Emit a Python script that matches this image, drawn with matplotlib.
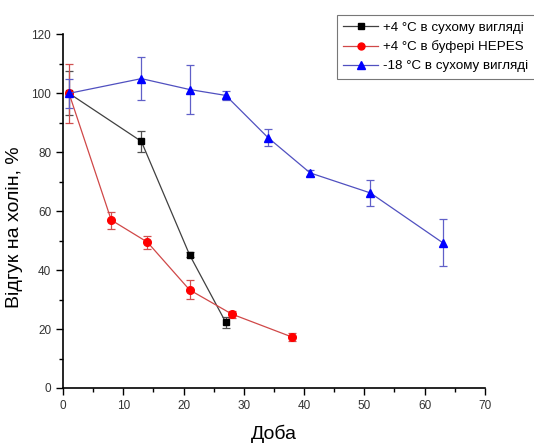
import matplotlib
matplotlib.use('Agg')
import matplotlib.pyplot as plt
from matplotlib.lines import Line2D
from matplotlib.ticker import MultipleLocator

plt.rcParams['font.family'] = ['Liberation Sans', 'DejaVu Sans']

# дані
x_dry4 = [1, 13, 21, 27]
y_dry4 = [100, 83.7, 45.2, 22.3]
e_dry4 = [7.5, 3.5, 0.8, 1.8]

x_hepes = [1, 8, 14, 21, 28, 38]
y_hepes = [100, 57.0, 49.5, 33.3, 25.1, 17.3]
e_hepes = [10.0, 2.9, 2.2, 3.2, 1.2, 1.3]

x_dry18 = [1, 13, 21, 27, 34, 41, 51, 63]
y_dry18 = [100, 105.0, 101.3, 99.3, 85.0, 73.0, 66.2, 49.3]
e_dry18 = [5.0, 7.4, 8.4, 1.6, 2.8, 1.0, 4.5, 7.9]

labels = ['+4 °C в сухому вигляді', '+4 °C в буфері HEPES', '-18 °C в сухому вигляді']

fig = plt.figure(figsize=(5.34, 4.47), dpi=100)
ax = fig.add_axes([0.118, 0.132, 0.79, 0.791])

styles = [
    dict(color='#404040', ecolor='#505050', marker='s', mfc='black', mec='black', ms=5),
    dict(color='#d04848', ecolor='#d05050', marker='o', mfc='red', mec='red', ms=5.5),
    dict(color='#5050c0', ecolor='#6060c8', marker='^', mfc='blue', mec='blue', ms=6),
]
series = [(x_dry4, y_dry4, e_dry4), (x_hepes, y_hepes, e_hepes), (x_dry18, y_dry18, e_dry18)]

handles = []
for (xs, ys, es), st in zip(series, styles):
    ax.errorbar(xs, ys, yerr=es, lw=0.9, elinewidth=0.9, capsize=3, capthick=0.9, **st)
    handles.append(Line2D([], [], lw=0.9, color=st['color'], marker=st['marker'],
                          mfc=st['mfc'], mec=st['mec'], ms=st['ms'] - 0.5))

ax.set_xlim(0, 70)
ax.set_ylim(0, 120)
ax.xaxis.set_major_locator(MultipleLocator(10))
ax.xaxis.set_minor_locator(MultipleLocator(5))
ax.yaxis.set_major_locator(MultipleLocator(20))
ax.yaxis.set_minor_locator(MultipleLocator(10))
ax.spines['top'].set_visible(False)
ax.spines['right'].set_visible(False)
ax.spines['left'].set_linewidth(1.2)
ax.spines['bottom'].set_linewidth(1.2)
ax.tick_params(which='major', direction='out', length=5, width=1, labelsize=8.5, labelcolor='#333333')
ax.tick_params(which='minor', direction='out', length=3, width=1)

ax.set_xlabel('Доба', fontsize=14, labelpad=9)
ax.set_ylabel('Відгук на холін, %', fontsize=14)
ax.yaxis.set_label_coords(-0.095, 0.455)

leg = fig.legend(handles, labels, loc='upper left', bbox_to_anchor=(0.618, 0.982),
                 fontsize=9.6, frameon=True, fancybox=False, edgecolor='#555555',
                 handlelength=2.6, handletextpad=0.4, borderpad=0.5, labelspacing=0.5)
leg.get_frame().set_linewidth(0.8)

fig.savefig('out.png', dpi=100)
